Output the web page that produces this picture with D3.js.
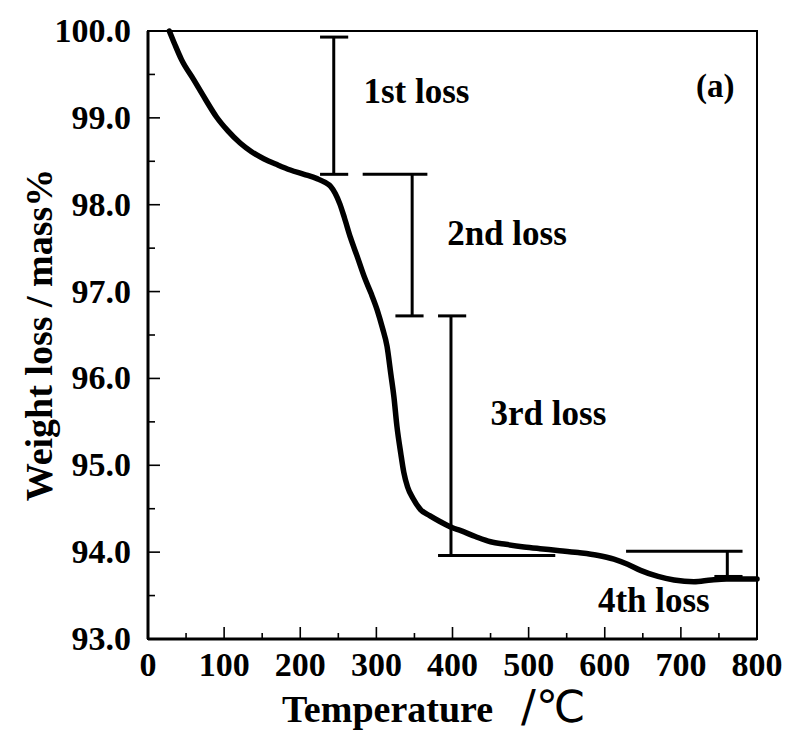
<!DOCTYPE html>
<html>
<head>
<meta charset="utf-8">
<script src="https://cdn.jsdelivr.net/npm/d3@7"></script>
<style>
  html, body { margin: 0; padding: 0; background: #fff; }
  svg { display: block; }
  text { font-family: "Liberation Serif", "Times New Roman", serif; font-weight: bold; fill: #000; }
</style>
</head>
<body>
<svg id="chart" width="787" height="735"></svg>
<script>
// ---- data ----
const temperature = [28, 35, 44, 60, 75, 90, 105, 121, 136, 152, 170, 187, 205, 222, 232, 240, 246, 252, 258, 266, 275, 285, 293, 301, 308, 314, 319, 323, 327, 332, 336, 341, 348, 358, 370, 384, 400, 410, 430, 450, 470, 494, 515, 538, 565, 590, 612, 630, 647, 670, 691, 717, 740, 760, 800];
const weight = [100.0, 99.85, 99.67, 99.44, 99.22, 99.01, 98.85, 98.71, 98.61, 98.53, 98.46, 98.40, 98.35, 98.30, 98.26, 98.21, 98.13, 98.01, 97.85, 97.62, 97.40, 97.15, 96.98, 96.79, 96.58, 96.37, 96.05, 95.79, 95.45, 95.14, 94.92, 94.75, 94.62, 94.49, 94.42, 94.35, 94.28, 94.25, 94.18, 94.12, 94.09, 94.06, 94.04, 94.02, 93.995, 93.965, 93.92, 93.86, 93.79, 93.72, 93.68, 93.66, 93.68, 93.69, 93.69];

const xTicks = [0, 100, 200, 300, 400, 500, 600, 700, 800];
const yTicks = [93, 94, 95, 96, 97, 98, 99, 100];

// loss steps: vertical at temperature, top/bottom weights, cap extents (temperature)
const lossNames = ["1st loss", "2nd loss", "3rd loss", "4th loss"];
const lossX = [244, 347, 398, 761];
const lossTop = [99.93, 98.35, 96.72, 94.01];
const lossBottom = [98.35, 96.72, 93.96, 93.72];
const lossTopCap = [[226, 263], [282, 367], [381, 418], [628, 781]];
const lossBottomCap = [[226, 263], [325, 362], [381, 535], [744, 781]];
const lossLabelT = [283, 393, 450, 591];
const lossLabelW = [99.17, 97.54, 95.46, 93.31];

// ---- layout ----
const svg = d3.select("#chart");
const margin = { left: 148, top: 31, right: 30, bottom: 96 };
const W = 787, H = 735;
const x = d3.scaleLinear().domain([0, 800]).range([margin.left, W - margin.right]);
const y = d3.scaleLinear().domain([93, 100]).range([H - margin.bottom, margin.top]);

// frame
svg.append("rect")
  .attr("x", x(0)).attr("y", y(100))
  .attr("width", x(800) - x(0)).attr("height", y(93) - y(100))
  .attr("fill", "none").attr("stroke", "#000").attr("stroke-width", 2);

// x axis ticks (inward)
const xMinor = d3.range(50, 800, 100);
svg.append("g").selectAll("line").data(xTicks).join("line")
  .attr("x1", d => x(d)).attr("x2", d => x(d))
  .attr("y1", y(93)).attr("y2", y(93) - 12)
  .attr("stroke", "#000").attr("stroke-width", 1.6);
svg.append("g").selectAll("line").data(xMinor).join("line")
  .attr("x1", d => x(d)).attr("x2", d => x(d))
  .attr("y1", y(93)).attr("y2", y(93) - 6)
  .attr("stroke", "#000").attr("stroke-width", 1.6);
svg.append("line").attr("x1", x(0)).attr("x2", x(800)).attr("y1", y(93)).attr("y2", y(93))
  .attr("stroke", "#000").attr("stroke-width", 3);

// y axis ticks (inward)
const yMinor = d3.range(93.5, 100, 1);
svg.append("g").selectAll("line").data(yTicks).join("line")
  .attr("x1", x(0)).attr("x2", x(0) + 12)
  .attr("y1", d => y(d)).attr("y2", d => y(d))
  .attr("stroke", "#000").attr("stroke-width", 1.6);
svg.append("g").selectAll("line").data(yMinor).join("line")
  .attr("x1", x(0)).attr("x2", x(0) + 7)
  .attr("y1", d => y(d)).attr("y2", d => y(d))
  .attr("stroke", "#000").attr("stroke-width", 1.6);
svg.append("line").attr("x1", x(0)).attr("x2", x(0)).attr("y1", y(93)).attr("y2", y(100))
  .attr("stroke", "#000").attr("stroke-width", 3);

// tick labels
svg.append("g").selectAll("text").data(xTicks).join("text")
  .attr("x", d => x(d)).attr("y", y(93) + 37)
  .attr("text-anchor", "middle").attr("font-size", 34)
  .text(d => d);
svg.append("g").selectAll("text").data(yTicks).join("text")
  .attr("x", x(0) - 17).attr("y", d => y(d) + 11)
  .attr("text-anchor", "end").attr("font-size", 34)
  .text(d => d.toFixed(1));

// axis titles
const xt = svg.append("text")
  .attr("x", 282).attr("y", 722)
  .attr("text-anchor", "start").attr("font-size", 38);
xt.append("tspan").text("Temperature");
xt.append("tspan").attr("dx", 28)
  .style("font-family", "'DejaVu Sans', sans-serif").style("font-weight", "normal")
  .attr("font-size", 44).text("/℃");

svg.append("text")
  .attr("transform", `translate(52, ${(y(93) + y(100)) / 2}) rotate(-90)`)
  .attr("text-anchor", "middle").attr("font-size", 38)
  .text("Weight loss / mass%");

// curve
const pts = temperature.map((t, i) => [t, weight[i]]);
svg.append("path").datum(pts)
  .attr("fill", "none").attr("stroke", "#000").attr("stroke-width", 5.5)
  .attr("stroke-linejoin", "round").attr("stroke-linecap", "round")
  .attr("d", d3.line().x(d => x(d[0])).y(d => y(d[1])).curve(d3.curveMonotoneX));

// loss bars
const g = svg.append("g").attr("stroke", "#000").attr("stroke-width", 3);
lossX.forEach((t, i) => {
  g.append("line").attr("x1", x(t)).attr("x2", x(t)).attr("y1", y(lossTop[i])).attr("y2", y(lossBottom[i]));
  g.append("line").attr("x1", x(lossTopCap[i][0])).attr("x2", x(lossTopCap[i][1])).attr("y1", y(lossTop[i])).attr("y2", y(lossTop[i]));
  g.append("line").attr("x1", x(lossBottomCap[i][0])).attr("x2", x(lossBottomCap[i][1])).attr("y1", y(lossBottom[i])).attr("y2", y(lossBottom[i]));
});

svg.append("g").selectAll("text").data(lossNames).join("text")
  .attr("x", (d, i) => x(lossLabelT[i])).attr("y", (d, i) => y(lossLabelW[i]))
  .attr("font-size", 35)
  .text(d => d);

svg.append("text").attr("x", x(720)).attr("y", y(99.24)).attr("font-size", 33).text("(a)");
</script>
</body>
</html>
